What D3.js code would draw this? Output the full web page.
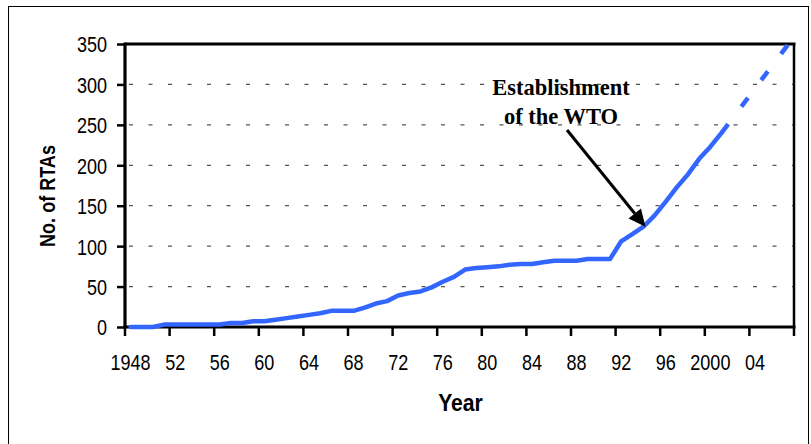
<!DOCTYPE html>
<html>
<head>
<meta charset="utf-8">
<script src="https://cdn.jsdelivr.net/npm/d3@7"></script>
<style>
  html, body { margin: 0; padding: 0; background: #fff; }
  svg { display: block; }
</style>
</head>
<body>
<svg id="chart" width="811" height="444"></svg>
<script>
// ---------- data ----------
const years = d3.range(1948, 2008); // category axis 1948 .. 2007
const actualYears = d3.range(1948, 2002);
const actualValues = [
  0, 0, 0, 3, 3, 3, 3, 3, 3, 5,      // 1948-1957
  5, 7, 7, 9, 11, 13, 15, 17, 20, 20, // 1958-1967
  20, 24, 29, 32, 39, 42, 44, 49, 56, 62, // 1968-1977
  71, 73, 74, 75, 77, 78, 78, 80, 82, 82, // 1978-1987
  82, 84, 84, 84, 106, 115, 124, 138, 155, 173, // 1988-1997
  189, 208, 223, 240                   // 1998-2001
];
const projectionYears = [2001, 2007];
const projectionValues = [240, 350];
const yTicks = [0, 50, 100, 150, 200, 250, 300, 350];
const xLabelYears = d3.range(1948, 2008, 4);
const xLabelText = ["1948", "52", "56", "60", "64", "68", "72", "76", "80", "84", "88", "92", "96", "2000", "04"];
const annotationLines = ["Establishment", "of the WTO"];
const annotationYear = 1994;
const annotationValue = 124;

(function () {
// ---------- layout ----------
const svg = d3.select("#chart");
const W = 811, H = 444;
const pL = 125, pR = 794, pT = 44, pB = 327;
const sans = "'Liberation Sans', Arial, sans-serif";
const NX = 0.82; // horizontal condensing to imitate Arial Narrow

svg.append("rect").attr("width", W).attr("height", H).attr("fill", "#fff");
// outer chart frame
svg.append("rect")
  .attr("x", 8.5).attr("y", 6.5).attr("width", 800).attr("height", 445)
  .attr("fill", "none").attr("stroke", "#000").attr("stroke-width", 1);

const x = d3.scaleBand().domain(years).range([pL, pR]).paddingInner(0).paddingOuter(0);
const bw = x.bandwidth();
const cx = yr => x(yr) + bw / 2;
const y = d3.scaleLinear().domain([0, 350]).range([pB, pT]);

// gridlines
svg.append("g").selectAll("line")
  .data(yTicks.filter(v => v > 0 && v < 350))
  .join("line")
  .attr("x1", pL + 4).attr("x2", pR)
  .attr("y1", d => y(d)).attr("y2", d => y(d))
  .attr("stroke", "#555").attr("stroke-width", 1.3)
  .attr("stroke-dasharray", "4,15.5");

// plot border top & right
svg.append("line").attr("x1", pL).attr("x2", pR + 1.5).attr("y1", pT).attr("y2", pT)
  .attr("stroke", "#000").attr("stroke-width", 3);
svg.append("line").attr("x1", pR).attr("x2", pR).attr("y1", pT).attr("y2", pB)
  .attr("stroke", "#000").attr("stroke-width", 2.5);

// y axis
const yAxis = d3.axisLeft(y).tickValues(yTicks).tickSize(8).tickPadding(8).tickFormat(d3.format("d"));
const gy = svg.append("g").attr("transform", `translate(${pL},0)`).call(yAxis);
gy.select(".domain").remove();
gy.selectAll(".tick line").attr("stroke", "#000").attr("stroke-width", 2.5);
gy.selectAll(".tick text").attr("font-family", sans).attr("font-size", 22).attr("fill", "#000")
  .attr("x", -18 / NX).attr("transform", `scale(${NX},1)`)
  .attr("dy", "0.36em");
svg.append("line").attr("x1", pL).attr("x2", pL).attr("y1", pT - 1.5).attr("y2", pB + 1.5)
  .attr("stroke", "#000").attr("stroke-width", 3.2);

// x axis: ticks at category boundaries every 4, labels at category centres
const boundaryIdx = d3.range(0, years.length + 1, 4);
svg.append("g").selectAll("line")
  .data(boundaryIdx)
  .join("line")
  .attr("x1", i => pL + i * bw).attr("x2", i => pL + i * bw)
  .attr("y1", pB).attr("y2", pB + 9)
  .attr("stroke", "#000").attr("stroke-width", 2.5);
svg.append("line").attr("x1", pL - 1.5).attr("x2", pR + 1.5).attr("y1", pB).attr("y2", pB)
  .attr("stroke", "#000").attr("stroke-width", 3.2);
svg.append("g").selectAll("text")
  .data(xLabelYears)
  .join("text")
  .attr("transform", d => `translate(${cx(d)},370) scale(${NX},1)`)
  .attr("text-anchor", "middle")
  .attr("font-family", sans).attr("font-size", 22).attr("fill", "#000")
  .text((d, i) => xLabelText[i]);

// axis titles
svg.append("text").attr("transform", `translate(${(pL + pR) / 2 + 1},411) scale(0.92,1)`)
  .attr("text-anchor", "middle").attr("font-family", sans)
  .attr("font-weight", "bold").attr("font-size", 23).attr("fill", "#000").text("Year");
svg.append("text").attr("transform", `translate(55,196) rotate(-90) scale(${NX},1)`)
  .attr("text-anchor", "middle").attr("font-family", sans)
  .attr("font-weight", "bold").attr("font-size", 22).attr("fill", "#000").text("No. of RTAs");

// series
const line = d3.line().x(d => cx(d[0])).y(d => y(d[1]));
const actual = actualYears.map((yr, i) => [yr, actualValues[i]]);
const projection = projectionYears.map((yr, i) => [yr, projectionValues[i]]);
svg.append("path").datum(actual).attr("d", line)
  .attr("fill", "none").attr("stroke", "#3366FF").attr("stroke-width", 4.5)
  .attr("stroke-linejoin", "round").attr("stroke-linecap", "round");
svg.append("path").datum(projection).attr("d", line)
  .attr("fill", "none").attr("stroke", "#3366FF").attr("stroke-width", 4.5)
  .attr("stroke-dasharray", "11,22");

// annotation
const textCx = 561;
svg.append("g").selectAll("text")
  .data(annotationLines)
  .join("text")
  .attr("x", textCx).attr("y", (d, i) => 95 + i * 29)
  .attr("text-anchor", "middle")
  .attr("font-family", "'Liberation Serif', 'Times New Roman', serif")
  .attr("font-weight", "bold").attr("font-size", 22.5).attr("fill", "#000")
  .text(d => d);
const tip = [cx(annotationYear) + 2, y(annotationValue)];
const start = [567, 130];
const ang = Math.atan2(tip[1] - start[1], tip[0] - start[0]);
const headLen = 17, headW = 8;
const base = [tip[0] - headLen * Math.cos(ang), tip[1] - headLen * Math.sin(ang)];
svg.append("line").attr("x1", start[0]).attr("y1", start[1]).attr("x2", base[0]).attr("y2", base[1])
  .attr("stroke", "#000").attr("stroke-width", 3);
const px = -Math.sin(ang), py = Math.cos(ang);
svg.append("path")
  .attr("d", `M${tip[0]},${tip[1]}L${base[0] + px * headW},${base[1] + py * headW}L${base[0] - px * headW},${base[1] - py * headW}Z`)
  .attr("fill", "#000");
})();
</script>
</body>
</html>
